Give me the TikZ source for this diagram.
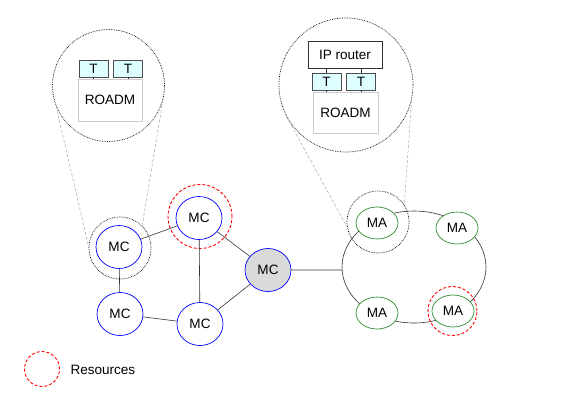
\documentclass[tikz,border=0pt]{standalone}
\usepackage{fontspec}
\setmainfont{Liberation Sans}
\usetikzlibrary{shapes.geometric}
\definecolor{tcyan}{HTML}{DDFFFF}
\definecolor{magreen}{HTML}{2E8B2E}
\definecolor{mcgray}{HTML}{DADADA}
\begin{document}
\begin{tikzpicture}[x=1bp,y=-1bp,
    font=\fontsize{13.6}{16}\selectfont,
    mc/.style={ellipse,draw=blue,fill=white,line width=0.7pt,minimum width=46bp,minimum height=43bp,inner sep=0pt},
    ma/.style={ellipse,draw=magreen,fill=white,line width=0.7pt,minimum width=42bp,minimum height=32bp,inner sep=0pt},
    res/.style={circle,draw=red,densely dashed,line width=0.9pt,inner sep=0pt},
    zoomring/.style={circle,draw=black,densely dotted,line width=0.7pt,inner sep=0pt},
    tbox/.style={draw=black!70,fill=tcyan,line width=0.6pt,minimum width=29bp,minimum height=17bp,inner sep=0pt},
    roadm/.style={draw=black!20,fill=white,line width=0.6pt,minimum width=64bp,minimum height=42bp,inner sep=0pt},
    link/.style={draw=black!80,line width=0.6pt},
    zoomline/.style={draw=black!35,densely dashed,line width=0.5pt}]
\useasboundingbox (0,0) rectangle (582,409);
% zoomed views
\node[zoomring,minimum size=112bp] (bigL) at (108.5,85.5) {};
\node[roadm] (roadmL) at (110,100) {ROADM};
\node[tbox] (t1) at (93.5,68.5) {T};
\node[tbox] (t2) at (128,68.5) {T};
\node[zoomring,minimum size=134bp] (bigR) at (346,85) {};
\node[draw=black!80,fill=white,line width=0.6pt,minimum width=74bp,minimum height=27bp,inner sep=0pt] (router) at (345,54.5) {IP router};
\node[roadm,minimum width=65bp,minimum height=41bp] (roadmR) at (345.5,112.5) {ROADM};
\node[tbox] (t3) at (326.5,81.5) {T};
\node[tbox] (t4) at (361,81.5) {T};
\path[link]
    (t1.south) -- (t1.south |- roadmL.north)
    (t2.south) -- (t2.south |- roadmL.north)
    (t3.south) -- (t3.south |- roadmR.north)
    (t4.south) -- (t4.south |- roadmR.north)
    (t3.north) -- (t3.north |- router.south)
    (t4.north) -- (t4.north |- router.south);
% ring of MA nodes
\draw[link] (414,267) ellipse [x radius=72, y radius=56];
\node[zoomring,minimum size=62bp] (dotR) at (378,222) {};
\node[zoomring,minimum size=62bp] (dotL) at (120,248) {};
\node[res,minimum size=64bp] (resMC) at (200,216.5) {};
\node[res,minimum size=49bp] (resMA) at (452.5,311) {};
\node[mc] (mc1) at (119,247) {MC};
\node[mc] (mc2) at (199,218) {MC};
\node[mc,fill=mcgray] (mc3) at (268,270) {MC};
\node[mc] (mc4) at (120,314) {MC};
\node[mc] (mc5) at (200,324) {MC};
\node[ma] (ma1) at (377,223) {MA};
\node[ma] (ma2) at (457,228) {MA};
\node[ma] (ma3) at (377,313) {MA};
\node[ma] (ma4) at (453,311) {MA};
\coordinate (ringW) at (342,270);
\path[link]
    (mc1) -- (mc2)
    (mc1) -- (mc4)
    (mc4) -- (mc5)
    (mc5) -- (mc2)
    (mc2) -- (mc3)
    (mc5) -- (mc3)
    (mc3) -- (ringW);
\path[zoomline]
    (bigL.201) -- (dotL.178)
    (bigL.-15) -- (dotL.45)
    (bigR.208) -- (dotR.189)
    (bigR.-13) -- (dotR.33);
% legend
\node[res,minimum size=35bp] (legRes) at (42,369) {};
\node[anchor=west] (legText) at (67,370) {Resources};
\end{tikzpicture}
\end{document}
